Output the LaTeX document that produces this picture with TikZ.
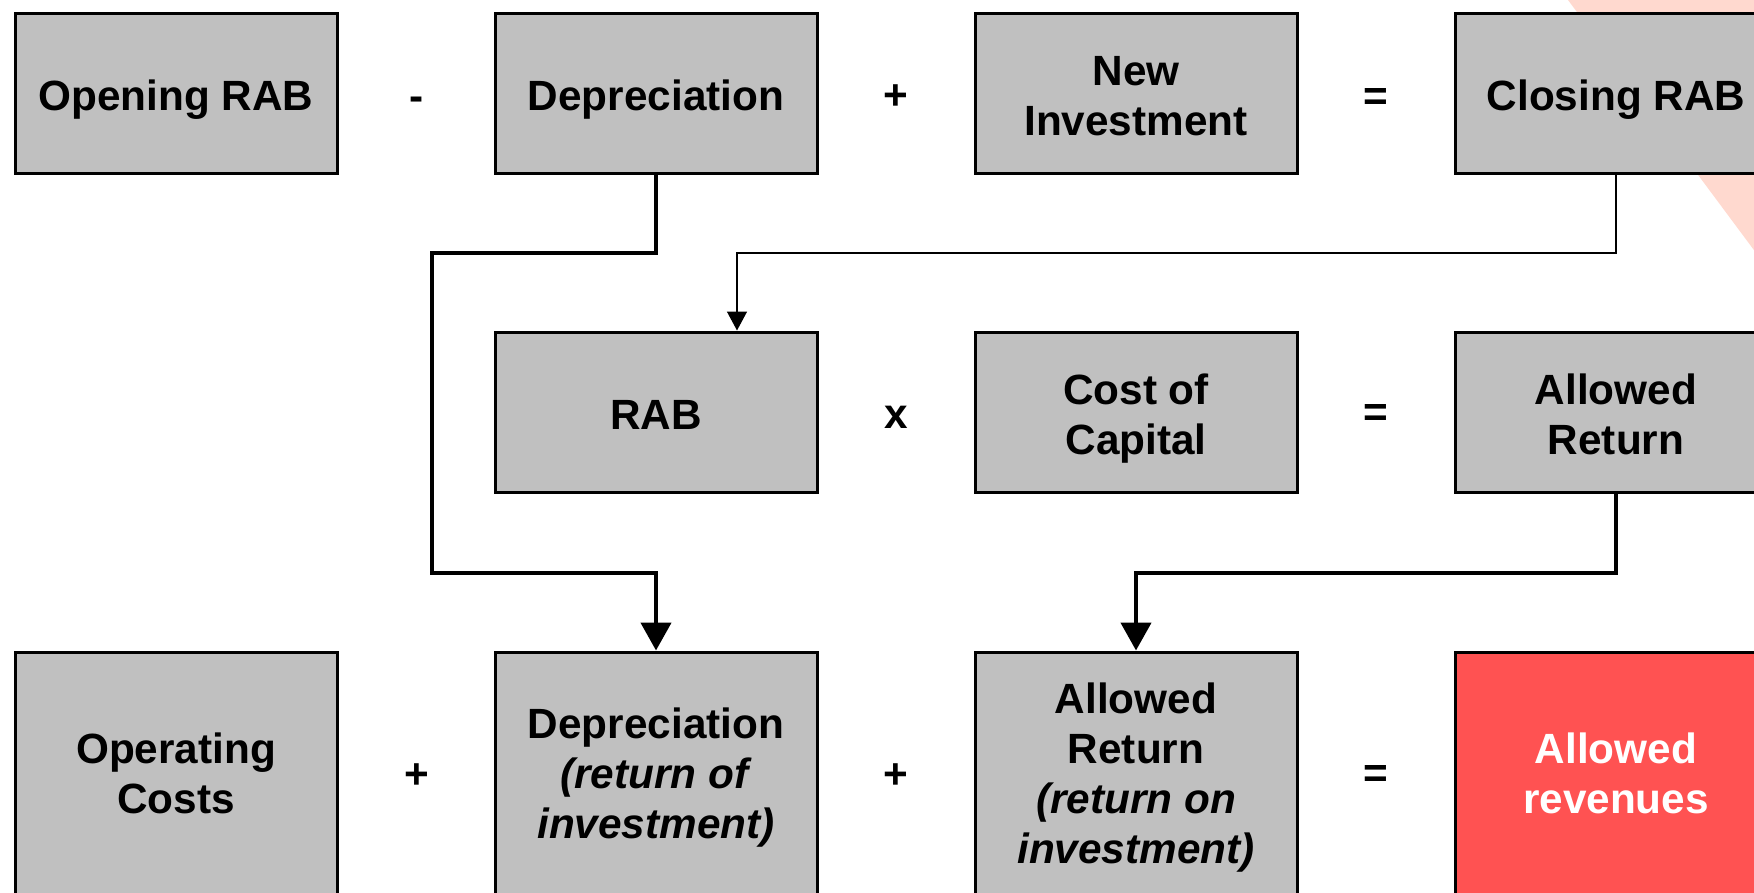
\documentclass[tikz,border=0pt]{standalone}
\usepackage{fontspec}
\setmainfont{Liberation Sans}
\usetikzlibrary{arrows.meta}
\definecolor{boxgrey}{RGB}{192,192,192}
\definecolor{revred}{RGB}{255,82,82}
\definecolor{bandpink}{RGB}{255,217,207}
% fixed line box: full ascent on the first line, descent on the last
\newcommand\topstrut{\rule{0pt}{43pt}}
\newcommand\botstrut{\rule[-9pt]{0pt}{9pt}}
% slightly higher text placement for the tall bottom row
\newcommand\tallTop{\rule{0pt}{40pt}}
\newcommand\tallBot{\rule[-12pt]{0pt}{12pt}}
\tikzset{
  calcbox/.style={draw=black, line width=3pt, fill=boxgrey, minimum width=322pt,
    minimum height=160pt, align=center, inner sep=0pt,
    font=\bfseries\fontsize{42.3}{50}\selectfont},
  tallbox/.style={calcbox, minimum height=244pt},
  op/.style={font=\bfseries\fontsize{42.3}{50}\selectfont},
  heavyflow/.style={line width=4.5pt, -{Triangle[width=30pt,length=28pt]}},
  lightflow/.style={line width=1.5pt, -{Triangle[width=20pt,length=19pt]}}
}
\begin{document}
\begin{tikzpicture}[x=1pt,y=-1pt]
  \useasboundingbox (0,0) rectangle (1754,892);
  \clip (0,0) rectangle (1754,892);
  \fill[white] (0,0) rectangle (1754,892);
  % pale diagonal band in the corner
  \fill[bandpink] (1568,0) -- (1800,0) -- (1800,312) -- cycle;

  % row 1: RAB roll-forward
  \node[calcbox] (open)  at (176,93)  {\topstrut Opening RAB\botstrut};
  \node[op]      (opA)   at (417,104) {-};
  \node[calcbox] (dep)   at (656,93)  {\topstrut Depreciation\botstrut};
  \node[op]      (opB)   at (896,97)  {+};
  \node[calcbox] (inv)   at (1136,93) {\topstrut New\\Investment\botstrut};
  \node[op]      (opC)   at (1376,99) {=};
  \node[calcbox] (close) at (1616,93) {\topstrut Closing RAB\botstrut};

  % row 2: return on capital
  \node[calcbox] (rab)   at (656,412)  {\topstrut RAB\botstrut};
  \node[op]      (opD)   at (896,417)  {x};
  \node[calcbox] (coc)   at (1136,412) {\topstrut Cost of\\Capital\botstrut};
  \node[op]      (opE)   at (1376,415) {=};
  \node[calcbox] (ret)   at (1616,412) {\topstrut Allowed\\Return\botstrut};

  % row 3: building block sum
  \node[tallbox] (opex)  at (176,774)  {\tallTop Operating\\Costs\tallBot};
  \node[op]      (opF)   at (417,776)  {+};
  \node[tallbox] (depB)  at (656,774)  {\tallTop Depreciation\\\textit{(return of}\\\textit{investment)}\tallBot};
  \node[op]      (opG)   at (896,776)  {+};
  \node[tallbox] (retB)  at (1136,774) {\tallTop Allowed\\Return\\\textit{(return on}\\\textit{investment)}\tallBot};
  \node[op]      (opH)   at (1376,776) {=};
  \node[tallbox, fill=revred, text=white] (rev) at (1616,774) {\tallTop Allowed\\revenues\tallBot};

  % connectors
  \draw[heavyflow] (dep.south) -- (dep.south |- 0,253) -- (432,253)
    -- (432,573) -- (depB.north |- 0,573) -- (depB.north);
  \draw[lightflow] (close.south) -- (close.south |- 0,253)
    -- (737,253) -- (rab.north -| 737,0);
  \draw[heavyflow] (ret.south) -- (ret.south |- 0,573)
    -- (retB.north |- 0,573) -- (retB.north);
\end{tikzpicture}
\end{document}
